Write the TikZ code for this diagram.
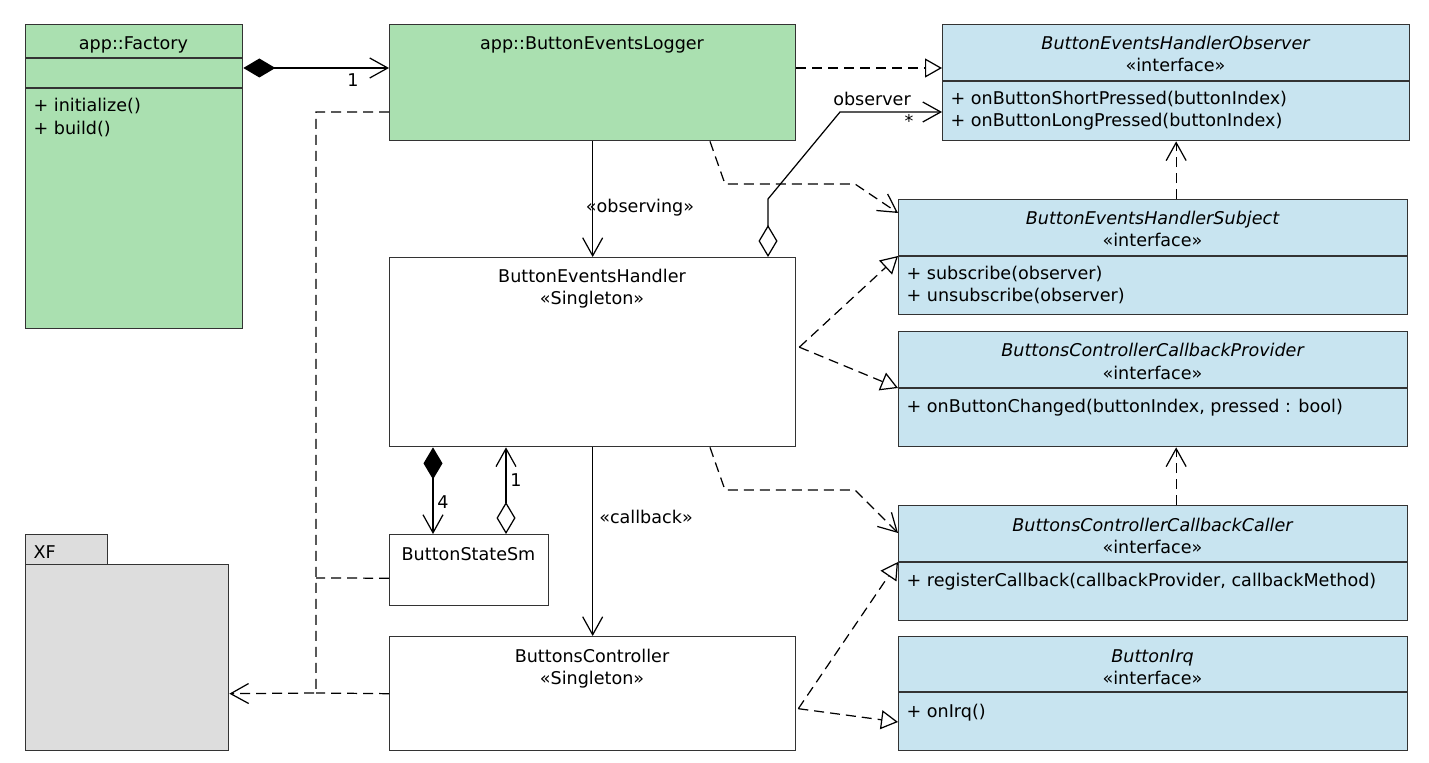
\documentclass[tikz,border=0pt]{standalone}
\usepackage{fontspec}
\setmainfont{DejaVu Sans}
\usetikzlibrary{arrows.meta,positioning,calc}

\begin{document}
\begin{tikzpicture}[x=0.02cm, y=-0.02cm, line width=0.7pt,
    every node/.style={font=\fontsize{10}{12}\selectfont, inner sep=0pt},
    umlbox/.style={draw=black!80, line width=0.8pt, anchor=north west},
    txt/.style={anchor=base},
    meth/.style={anchor=base west},
    dashline/.style={dash pattern=on 2mm off 1.2mm},
    assoc/.style={-{Straight Barb[length=3.6mm, width=4mm]}},
    dep/.style={dashline, -{Straight Barb[length=3.6mm, width=4mm]}},
    real/.style={dashline, -{Triangle[open, length=3.4mm, width=3.8mm, fill=white]}},
    comp/.style={{Diamond[length=6.4mm, width=3.8mm]}-{Straight Barb[length=3.6mm, width=4mm]}},
    aggr/.style={{Diamond[open, length=6.4mm, width=3.8mm, fill=white]}-{Straight Barb[length=3.6mm, width=4mm]}}]
    \definecolor{appgreen}{RGB}{170,224,176}
    \definecolor{ifblue}{RGB}{200,228,240}
    \definecolor{pkggray}{RGB}{221,221,221}

    \useasboundingbox (0,0) rectangle (1429,763);

    % Application classes
    \node[umlbox, fill=appgreen, minimum width=4.34cm, minimum height=6.08cm] (fac) at (25,24) {};
    \node[umlbox, fill=appgreen, minimum width=8.12cm, minimum height=2.32cm] (bel) at (389,24) {};

    % Interfaces
    \node[umlbox, fill=ifblue, minimum width=9.34cm, minimum height=2.32cm] (obs) at (942,24) {};
    \node[umlbox, fill=ifblue, minimum width=10.18cm, minimum height=2.30cm] (sub) at (898,199) {};
    \node[umlbox, fill=ifblue, minimum width=10.18cm, minimum height=2.30cm] (bccp) at (898,331) {};
    \node[umlbox, fill=ifblue, minimum width=10.18cm, minimum height=2.30cm] (bcc) at (898,505) {};
    \node[umlbox, fill=ifblue, minimum width=10.18cm, minimum height=2.28cm] (irq) at (898,636) {};

    % Driver classes
    \node[umlbox, fill=white, minimum width=8.12cm, minimum height=3.78cm] (beh) at (389,257) {};
    \node[umlbox, fill=white, minimum width=3.18cm, minimum height=1.42cm] (bss) at (389,534) {};
    \node[umlbox, fill=white, minimum width=8.12cm, minimum height=2.28cm] (bc) at (389,636) {};

    % XF package
    \node[umlbox, fill=pkggray, minimum width=1.64cm, minimum height=0.60cm] (xftab) at (25,534) {};
    \node[umlbox, fill=pkggray, minimum width=4.06cm, minimum height=3.72cm] (xf) at (25,564) {};

    % Compartment lines
    \draw[black!80, line width=0.8pt] ($(fac.north west)+(0,34)$) -- ($(fac.north east)+(0,34)$);
    \draw[black!80, line width=0.8pt] ($(fac.north west)+(0,64)$) -- ($(fac.north east)+(0,64)$);
    \draw[black!80, line width=0.8pt] ($(obs.north west)+(0,57)$) -- ($(obs.north east)+(0,57)$);
    \draw[black!80, line width=0.8pt] ($(sub.north west)+(0,57)$) -- ($(sub.north east)+(0,57)$);
    \draw[black!80, line width=0.8pt] ($(bccp.north west)+(0,57)$) -- ($(bccp.north east)+(0,57)$);
    \draw[black!80, line width=0.8pt] ($(bcc.north west)+(0,57)$) -- ($(bcc.north east)+(0,57)$);
    \draw[black!80, line width=0.8pt] ($(irq.north west)+(0,56)$) -- ($(irq.north east)+(0,56)$);

    % Class texts
    \node[txt] (fact) at (133.5,50) {app::Factory};
    \node[meth] (facm1) at (33,112) {+ initialize()};
    \node[meth] (facm2) at (33,135) {+ build()};
    \node[txt] (belt) at (592,50) {app::ButtonEventsLogger};

    \node[txt] (obst) at (1175.5,50) {\itshape ButtonEventsHandlerObserver};
    \node[txt] (obss) at (1175.5,72) {«interface»};
    \node[meth] (obsm1) at (950,105) {+ onButtonShortPressed(buttonIndex)};
    \node[meth] (obsm2) at (950,127) {+ onButtonLongPressed(buttonIndex)};

    \node[txt] (subt) at (1152.5,225) {\itshape ButtonEventsHandlerSubject};
    \node[txt] (subs) at (1152.5,247) {«interface»};
    \node[meth] (subm1) at (906,280) {+ subscribe(observer)};
    \node[meth] (subm2) at (906,302) {+ unsubscribe(observer)};

    \node[txt] (bccpt) at (1152.5,357) {\itshape ButtonsControllerCallbackProvider};
    \node[txt] (bccps) at (1152.5,379) {«interface»};
    \node[meth] (bccpm) at (906,412) {+ onButtonChanged(buttonIndex, pressed : bool)};

    \node[txt] (bcct) at (1152.5,531) {\itshape ButtonsControllerCallbackCaller};
    \node[txt] (bccs) at (1152.5,553) {«interface»};
    \node[meth] (bccm) at (906,586) {+ registerCallback(callbackProvider, callbackMethod)};

    \node[txt] (irqt) at (1152.5,662) {\itshape ButtonIrq};
    \node[txt] (irqs) at (1152.5,684) {«interface»};
    \node[meth] (irqm) at (906,717) {+ onIrq()};

    \node[txt] (beht) at (592,283) {ButtonEventsHandler};
    \node[txt] (behs) at (592,305) {«Singleton»};
    \node[txt] (bsst) at (468.5,560) {ButtonStateSm};
    \node[txt] (bct) at (592,662) {ButtonsController};
    \node[txt] (bcs) at (592,684) {«Singleton»};
    \node[meth] (xft) at (33,558) {XF};

    % Associations
    \draw[comp] ($(fac.north east)+(0,44)$) -- ($(bel.north west)+(0,44)$);
    \node[txt] (facn) at (353,87) {1};
    \draw[assoc] (bel.south) -- (beh.north);
    \node[txt] (obsl) at (640,213) {«observing»};
    \draw[assoc] (beh.south) -- (bc.north);
    \node[txt] (cbl) at (646,523) {«callback»};
    \draw[aggr] ($(beh.north west)+(379,0)$) -- ++(0,-58) -- (840,112) -- ($(obs.north west)+(0,88)$);
    \node[txt] (obsr) at (872,106) {observer};
    \node[txt] (obsn) at (909,128) {*};
    \draw[comp] ($(beh.south west)+(44,0)$) -- ($(bss.north west)+(44,0)$);
    \node[txt] (bssn) at (443,508) {4};
    \draw[aggr] ($(bss.north west)+(117,0)$) -- ($(beh.south west)+(117,0)$);
    \node[txt] (behn) at (516,486) {1};

    % Realizations
    \draw[real] ($(bel.north east)+(0,44)$) -- ($(obs.north west)+(0,44)$);
    \draw[real] ($(beh.east)+(3,-5)$) -- ($(sub.north west)+(0,57)$);
    \draw[real] ($(beh.east)+(3,-5)$) -- ($(bccp.north west)+(0,57)$);
    \draw[real] ($(bc.east)+(2,15)$) -- ($(bcc.north west)+(0,57)$);
    \draw[real] ($(bc.east)+(2,15)$) -- ($(irq.north west)+(0,86)$);

    % Dependencies
    \draw[dep] ($(bel.south west)+(321,0)$) -- (725,184) -- (855,184) -- ($(sub.north west)+(0,14)$);
    \draw[dep] ($(beh.south west)+(321,0)$) -- (725,490) -- (855,490) -- ($(bcc.north west)+(0,28)$);
    \draw[dep] (sub.north -| obs.south) -- (obs.south);
    \draw[dep] (bcc.north -| obs.south) -- (bccp.south -| obs.south);

    % Dependencies on XF
    \coordinate (jn) at (316,693);
    \coordinate (jb) at (316,578);
    \draw[dep] ($(bel.north west)+(0,88)$) -| (jn) -- (xf.east |- bc.west);
    \draw[dashline] (bc.west) -- (jn);
    \draw[dashline] ($(bss.west)+(0,8)$) -- (jb);
\end{tikzpicture}
\end{document}
